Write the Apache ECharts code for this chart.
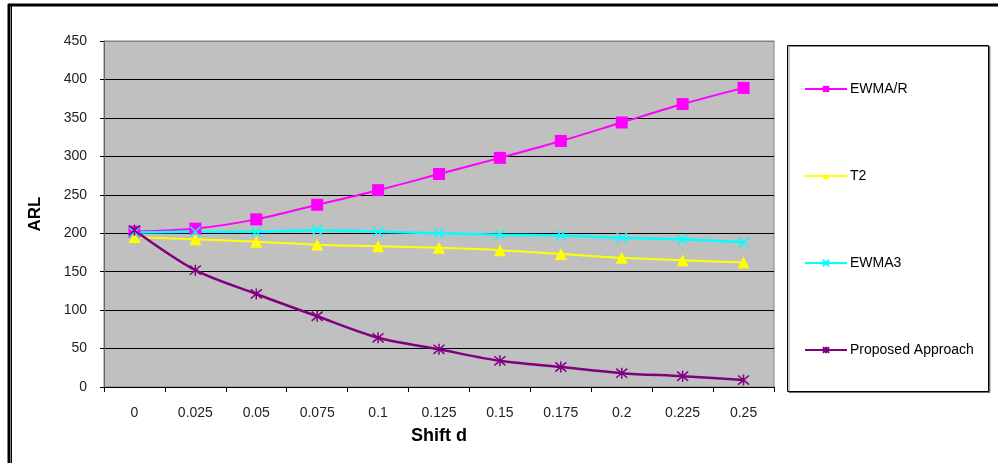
<!DOCTYPE html>
<html>
<head>
<meta charset="utf-8">
<script src="https://cdn.jsdelivr.net/npm/echarts@6/dist/echarts.min.js"></script>
<style>
  html, body { margin: 0; padding: 0; background: #fff; }
  #chart { width: 998px; height: 463px; }
</style>
</head>
<body>
<div id="chart"></div>
<script>
// Shift values on the horizontal axis
var shifts = ['0', '0.025', '0.05', '0.075', '0.1', '0.125', '0.15', '0.175', '0.2', '0.225', '0.25'];

// ARL for each method
var ewmaR    = [202, 206, 218, 237, 256, 277, 298, 320, 344, 368, 389];
var t2       = [195, 192, 189, 185, 183, 181, 178, 173, 168, 165, 162];
var ewma3    = [201, 202, 202, 204, 202, 200, 198, 197, 194, 192, 188];
var proposed = [204, 152, 121, 92, 64, 49, 34, 26, 18, 14, 9];

var seriesNames = ['EWMA/R', 'T2', 'EWMA3', 'Proposed Approach'];

// Axis ticks
var yMin = 0, yMax = 450, yStep = 50;

var FONT = '"Liberation Sans", Arial, sans-serif';

var crossPath = 'path://M0,0L10,10M10,0L0,10';
var starPath  = 'path://M0,0L10,10M10,0L0,10M5,-1L5,11';

function lineSeries(name, data, color, symbol, size, width, stroked) {
  return {
    name: name,
    type: 'line',
    data: data,
    smooth: 0.3,
    symbol: symbol,
    symbolSize: size,
    showSymbol: true,
    lineStyle: { color: color, width: width },
    itemStyle: stroked
      ? { color: 'none', borderColor: color, borderWidth: 1.5 }
      : { color: color, borderWidth: 0 },
    emphasis: { disabled: true },
    z: 3
  };
}

var splitColors = [];
for (var v = yMin; v <= yMax; v += yStep) {
  splitColors.push(v === yMax ? '#808080' : '#000');
}

var chart = echarts.init(document.getElementById('chart'), null, { renderer: 'canvas' });

chart.setOption({
  backgroundColor: '#fff',
  animation: false,
  textStyle: { fontFamily: FONT },
  grid: {
    left: 104, top: 41, right: 224, bottom: 76,
    show: true,
    backgroundColor: '#c0c0c0',
    borderColor: '#808080',
    borderWidth: 1
  },
  xAxis: {
    type: 'category',
    data: shifts,
    boundaryGap: true,
    name: 'Shift d',
    nameLocation: 'middle',
    nameGap: 40,
    nameTextStyle: { fontFamily: FONT, fontSize: 18, fontWeight: 'bold', color: '#000' },
    axisLine: { lineStyle: { color: '#000', width: 1 } },
    axisTick: { show: true, length: 5, lineStyle: { color: '#000' } },
    axisLabel: { margin: 19, fontSize: 14, color: '#222', fontFamily: FONT },
    splitLine: { show: false }
  },
  yAxis: {
    type: 'value',
    min: yMin, max: yMax, interval: yStep,
    name: 'ARL',
    nameLocation: 'middle',
    nameGap: 60,
    nameTextStyle: { fontFamily: FONT, fontSize: 17, fontWeight: 'bold', color: '#000' },
    axisLine: { show: true, lineStyle: { color: '#666', width: 1 } },
    axisTick: { show: true, length: 4, lineStyle: { color: '#000' } },
    axisLabel: { margin: 17, fontSize: 14, color: '#222', fontFamily: FONT },
    splitLine: { show: true, lineStyle: { color: splitColors, width: 1 } }
  },
  legend: {
    orient: 'vertical',
    left: 799,
    top: 77,
    itemWidth: 42,
    itemHeight: 8,
    itemGap: 73,
    data: seriesNames,
    textStyle: { fontFamily: FONT, fontSize: 14, color: '#000', padding: [0, 0, 0, -2] },
    selectedMode: false
  },
  graphic: [
    // outer frame
    { type: 'line', shape: { x1: 8, y1: 5, x2: 998, y2: 5 }, style: { stroke: '#000', lineWidth: 3 }, silent: true },
    { type: 'line', shape: { x1: 9, y1: 4, x2: 9, y2: 463 }, style: { stroke: '#000', lineWidth: 3 }, silent: true },
    { type: 'line', shape: { x1: 11.5, y1: 6, x2: 11.5, y2: 463 }, style: { stroke: '#000', lineWidth: 1 }, silent: true },
    // legend box
    {
      type: 'rect',
      shape: { x: 787.5, y: 45.5, width: 201, height: 346 },
      style: {
        fill: '#fff', stroke: '#000', lineWidth: 1,
        shadowColor: 'rgba(0,0,0,0.45)', shadowOffsetX: 1.5, shadowOffsetY: 1, shadowBlur: 0
      },
      z: -1,
      silent: true
    }
  ],
  series: [
    lineSeries(seriesNames[0], ewmaR, '#ff00ff', 'rect', 12, 2, false),
    lineSeries(seriesNames[1], t2, '#ffff00', 'triangle', 12, 2, false),
    lineSeries(seriesNames[2], ewma3, '#00ffff', crossPath, 10, 2.5, true),
    lineSeries(seriesNames[3], proposed, '#800080', starPath, 11, 2.5, true)
  ]
});
</script>
</body>
</html>
